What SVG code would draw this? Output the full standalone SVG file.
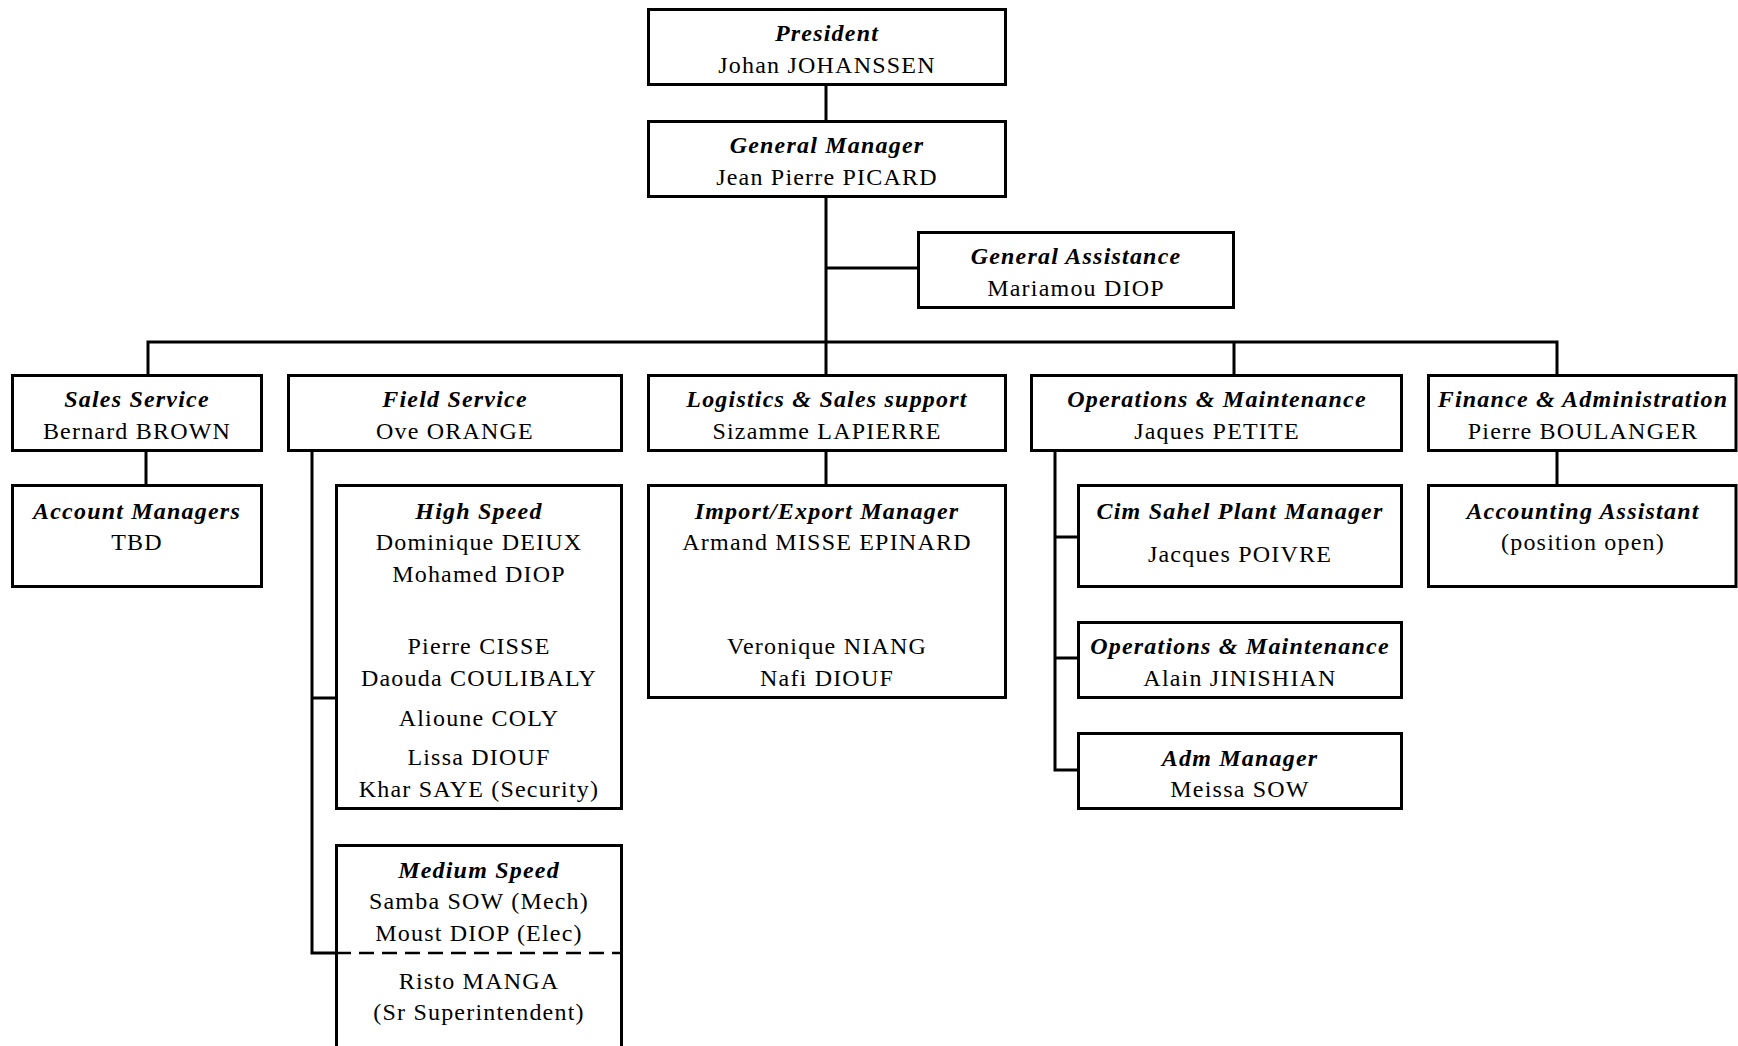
<svg xmlns="http://www.w3.org/2000/svg" width="1738" height="1046" viewBox="0 0 1738 1046">
<style>
.bx{fill:#fff;stroke:#000;stroke-width:3}
.ln{fill:none;stroke:#000;stroke-width:3}
.dash{fill:none;stroke:#000;stroke-width:2.5;stroke-dasharray:15 8}
text{font-family:"Liberation Serif","Times New Roman",serif;font-size:24px;letter-spacing:1.2px;text-anchor:middle;fill:#000}
.t{font-weight:bold;font-style:italic}
</style>
<rect width="1738" height="1046" fill="#fff"/>
<g id="connectors">
<path class="ln" d="M826 85V121M826 197V375M826 268H918M826 451V485"/>
<path class="ln" d="M148 375V342H1557V375M1234 342V375"/>
<path class="ln" d="M146 451V485M1557 451V485"/>
<path class="ln" d="M312 451V953H336M312 698H336"/>
<path class="ln" d="M1055 451V770H1078M1055 537H1078M1055 658H1078"/>
</g>
<g transform="translate(0,0.5)">
<g id="president"><rect class="bx" x="648.5" y="9" width="357" height="75"/><text x="827" y="40" class="t">President</text><text x="827" y="72">Johan JOHANSSEN</text></g>
<g id="general-manager"><rect class="bx" x="648.5" y="121" width="357" height="75"/><text x="827" y="152" class="t">General Manager</text><text x="827" y="184">Jean Pierre PICARD</text></g>
<g id="general-assistance"><rect class="bx" x="918.5" y="232" width="315" height="75"/><text x="1076" y="263" class="t">General Assistance</text><text x="1076" y="295">Mariamou DIOP</text></g>
<g id="sales-service"><rect class="bx" x="12.5" y="375" width="249" height="75"/><text x="137" y="406" class="t">Sales Service</text><text x="137" y="438">Bernard BROWN</text></g>
<g id="account-managers"><rect class="bx" x="12.5" y="485" width="249" height="101"/><text x="137" y="518" class="t">Account Managers</text><text x="137" y="549">TBD</text></g>
<g id="field-service"><rect class="bx" x="288.5" y="375" width="333" height="75"/><text x="455" y="406" class="t">Field Service</text><text x="455" y="438">Ove ORANGE</text></g>
<g id="high-speed"><rect class="bx" x="336.5" y="485" width="285" height="323"/><text x="479" y="518" class="t">High Speed</text><text x="479" y="549">Dominique DEIUX</text><text x="479" y="581">Mohamed DIOP</text><text x="479" y="653">Pierre CISSE</text><text x="479" y="685">Daouda COULIBALY</text><text x="479" y="725">Alioune COLY</text><text x="479" y="764">Lissa DIOUF</text><text x="479" y="796">Khar SAYE (Security)</text></g>
<g id="medium-speed"><path class="bx" d="M336.5 1050V845H621.5V1050"/><path class="dash" d="M336 952.5H622"/><text x="479" y="877" class="t">Medium Speed</text><text x="479" y="908">Samba SOW (Mech)</text><text x="479" y="940">Moust DIOP (Elec)</text><text x="479" y="988">Risto MANGA</text><text x="479" y="1019">(Sr Superintendent)</text></g>
<g id="logistics"><rect class="bx" x="648.5" y="375" width="357" height="75"/><text x="827" y="406" class="t">Logistics &amp; Sales support</text><text x="827" y="438">Sizamme LAPIERRE</text></g>
<g id="import-export"><rect class="bx" x="648.5" y="485" width="357" height="212"/><text x="827" y="518" class="t">Import/Export Manager</text><text x="827" y="549">Armand MISSE EPINARD</text><text x="827" y="653">Veronique NIANG</text><text x="827" y="685">Nafi DIOUF</text></g>
<g id="operations-maintenance"><rect class="bx" x="1031.5" y="375" width="370" height="75"/><text x="1217" y="406" class="t">Operations &amp; Maintenance</text><text x="1217" y="438">Jaques PETITE</text></g>
<g id="cim-sahel"><rect class="bx" x="1078.5" y="485" width="323" height="101"/><text x="1240" y="518" class="t">Cim Sahel Plant Manager</text><text x="1240" y="561">Jacques POIVRE</text></g>
<g id="operations-maintenance-2"><rect class="bx" x="1078.5" y="622" width="323" height="75"/><text x="1240" y="653" class="t">Operations &amp; Maintenance</text><text x="1240" y="685">Alain JINISHIAN</text></g>
<g id="adm-manager"><rect class="bx" x="1078.5" y="733" width="323" height="75"/><text x="1240" y="765" class="t">Adm Manager</text><text x="1240" y="796">Meissa SOW</text></g>
<g id="finance"><rect class="bx" x="1428.5" y="375" width="307.5" height="75"/><text x="1583" y="406" class="t">Finance &amp; Administration</text><text x="1583" y="438">Pierre BOULANGER</text></g>
<g id="accounting-assistant"><rect class="bx" x="1428.5" y="485" width="307.5" height="101"/><text x="1583" y="518" class="t">Accounting Assistant</text><text x="1583" y="549">(position open)</text></g>
</g>
</svg>
